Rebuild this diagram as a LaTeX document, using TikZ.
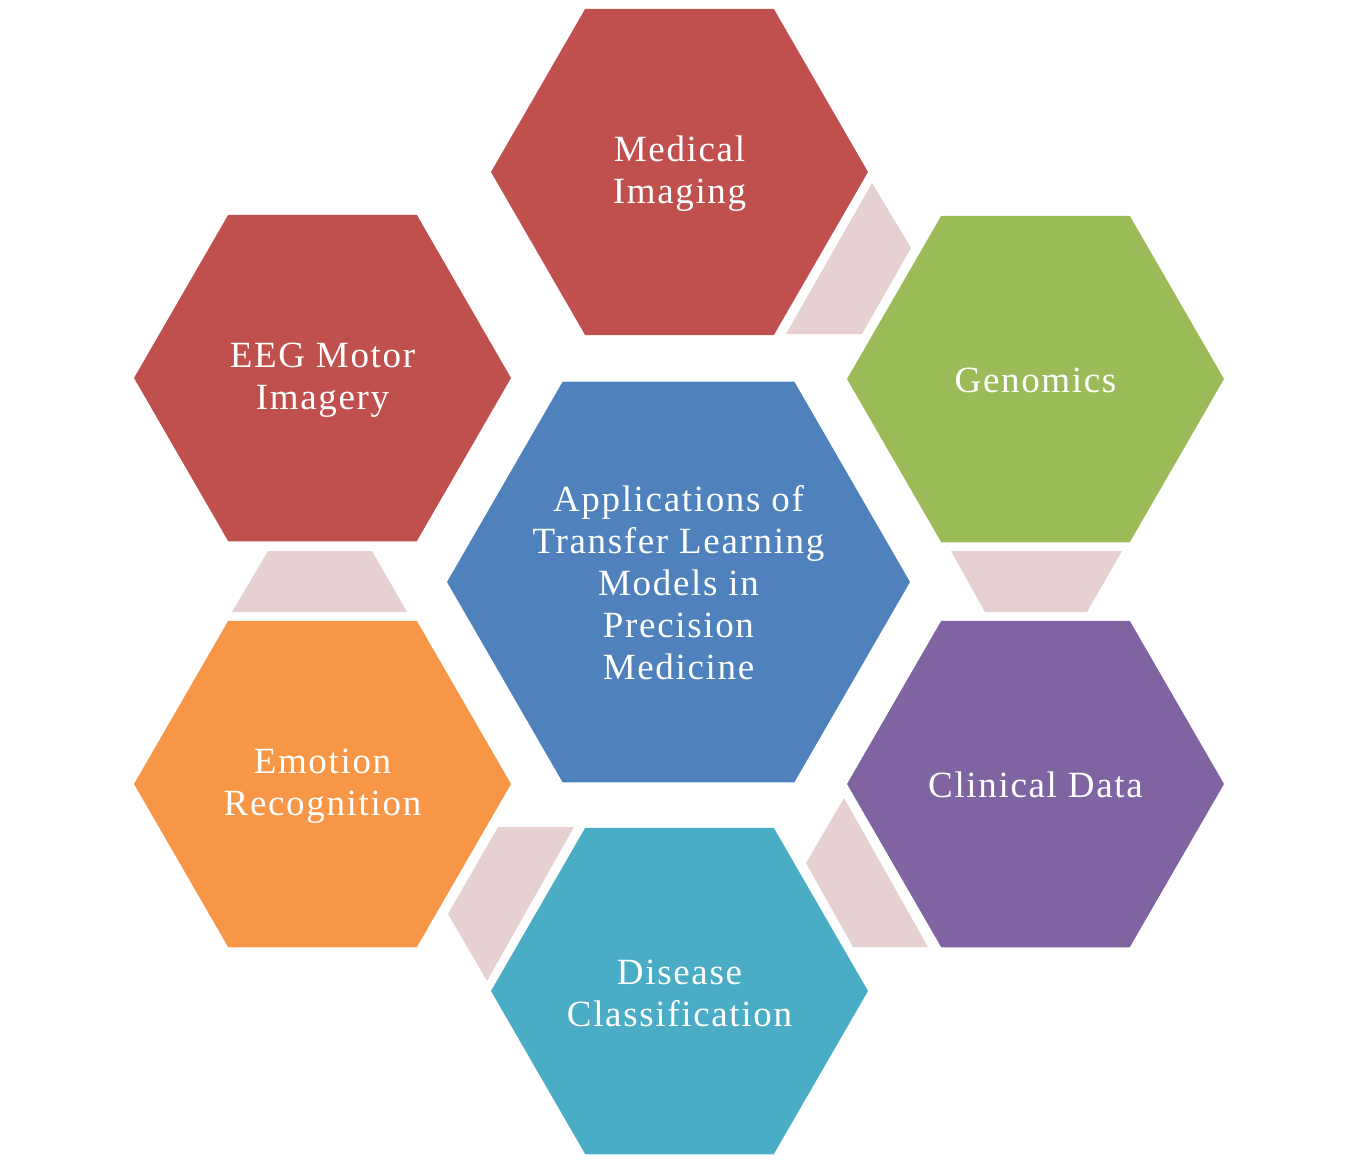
\documentclass[tikz,border=0pt]{standalone}
\usepackage{fontspec}
\setmainfont{Liberation Serif}[LetterSpace=4.5]
\definecolor{cred}{RGB}{192,80,77}
\definecolor{cgreen}{RGB}{155,187,89}
\definecolor{cpurple}{RGB}{128,100,162}
\definecolor{cteal}{RGB}{75,172,198}
\definecolor{corange}{RGB}{247,150,70}
\definecolor{cblue}{RGB}{79,129,189}
\definecolor{clink}{RGB}{230,208,209}
\newcommand\hexat[3]{%
  \fill[#3] ([shift={(#1)}]0:#2) -- ([shift={(#1)}]60:#2) -- ([shift={(#1)}]120:#2)
    -- ([shift={(#1)}]180:#2) -- ([shift={(#1)}]240:#2) -- ([shift={(#1)}]300:#2) -- cycle;}
\begin{document}
\begin{tikzpicture}[x=1pt,y=-1pt,
  lbl/.style={text=white, align=center, inner sep=0pt, font=\fontsize{37}{42}\selectfont},
  link/.style={fill=clink}]
\useasboundingbox (0,0) rectangle (1357,1164);
% centres
\coordinate (cmi) at (679.5,172);
\coordinate (cge) at (1035.5,379);
\coordinate (ccl) at (1035.5,784);
\coordinate (cdi) at (679.5,991);
\coordinate (cem) at (322.5,784);
\coordinate (cee) at (322.5,378);
\coordinate (cce) at (678.5,582);
% links
\fill[link] (786,334) -- (872,183) -- (911,248) -- (862,334) -- cycle;
\fill[link] (951,551) -- (1122,551) -- (1087,612) -- (985,612) -- cycle;
\fill[link] (844,798) -- (806,863) -- (853,947) -- (928,947) -- cycle;
\fill[link] (498,827) -- (574,827) -- (487,981) -- (448,914) -- cycle;
\fill[link] (268,551) -- (372,551) -- (407,612) -- (232,612) -- cycle;
% hexagons
\hexat{cmi}{188.5}{cred}
\hexat{cge}{188.5}{cgreen}
\hexat{ccl}{188.5}{cpurple}
\hexat{cdi}{188.5}{cteal}
\hexat{cem}{188.5}{corange}
\hexat{cee}{188.5}{cred}
\hexat{cce}{231.5}{cblue}
% labels
\node[lbl] (mi) at ([yshift=-2pt]cmi) {Medical\\Imaging};
\node[lbl] (ge) at ([yshift=-1pt]cge) {Genomics};
\node[lbl] (cl) at ([yshift=-1pt]ccl) {Clinical Data};
\node[lbl] (di) at ([yshift=-2pt]cdi) {Disease\\Classification};
\node[lbl] (em) at ([yshift=-2pt]cem) {Emotion\\Recognition};
\node[lbl] (ee) at ([yshift=-2pt]cee) {EEG Motor\\Imagery};
\node[lbl] (ce) at ([yshift=-1pt]cce) {Applications of\\Transfer Learning\\Models in\\Precision\\Medicine};
\end{tikzpicture}
\end{document}
